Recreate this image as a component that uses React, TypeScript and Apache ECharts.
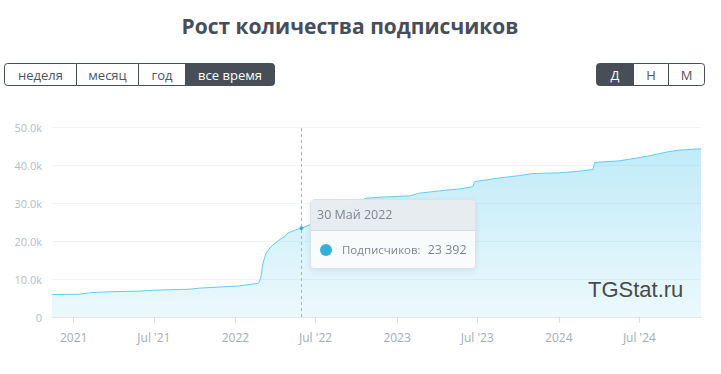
import React, { useEffect, useRef } from "react";
import * as echarts from "echarts";

// ---- data ----
const dates = [
  "2020-11-13", "2020-12-10", "2021-01-14", "2021-02-05", "2021-02-11", "2021-04-13",
  "2021-05-29", "2021-07-01", "2021-09-20", "2021-10-12", "2022-01-10", "2022-02-20",
  "2022-02-24", "2022-02-28", "2022-03-03", "2022-03-06", "2022-03-11", "2022-03-18",
  "2022-03-26", "2022-04-08", "2022-04-18", "2022-04-23", "2022-04-27", "2022-05-04",
  "2022-05-16", "2022-05-30", "2022-06-17", "2022-08-19", "2022-10-23", "2022-11-22",
  "2023-01-29", "2023-02-20", "2023-04-07", "2023-05-22", "2023-06-21", "2023-06-25",
  "2023-08-05", "2023-08-28", "2023-10-04", "2023-11-03", "2024-01-02", "2024-02-09",
  "2024-03-18", "2024-03-22", "2024-05-17", "2024-06-24", "2024-07-24", "2024-08-31",
  "2024-09-30", "2024-11-17",
];
const subscribers = [
  5910, 5930, 6000, 6340, 6440, 6700,
  6790, 7050, 7310, 7600, 8180, 8850,
  9100, 10800, 13300, 14900, 16700, 17900,
  18900, 20100, 20900, 21200, 21900, 22300,
  22900, 23392, 24210, 27700, 31260, 31520,
  31870, 32580, 33190, 33710, 34320, 35640,
  36350, 36700, 37220, 37750, 37940, 38280,
  38810, 40660, 41100, 41820, 42430, 43400,
  43930, 44270,
];
const xTickDates = [
  "2021-01-01", "2021-07-01", "2022-01-01", "2022-07-01",
  "2023-01-01", "2023-07-01", "2024-01-01", "2024-07-01",
];
const yTicks = [0, 10000, 20000, 30000, 40000, 50000];
const axisStart = "2020-11-13";
const axisEnd = "2024-11-17";
const tooltipDate = "2022-05-30";
const titleText = "Рост количества подписчиков";
const seriesName = "Подписчиков";
const periodButtons = ["неделя", "месяц", "год", "все время"];
const activePeriod = "все время";
const scaleButtons = ["Д", "Н", "М"];
const activeScale = "Д";
const watermark = "TGStat.ru";
const monthsEn = ["Jan", "Feb", "Mar", "Apr", "May", "Jun", "Jul", "Aug", "Sep", "Oct", "Nov", "Dec"];
const monthsRu = ["Янв", "Фев", "Мар", "Апр", "Май", "Июн", "Июл", "Авг", "Сен", "Окт", "Ноя", "Дек"];

// ---- helpers ----
const ts = (s: string) => {
  const [y, m, d] = s.split("-").map(Number);
  return new Date(y, m - 1, d).getTime();
};
const fmtNum = (v: number) => String(v).replace(/\B(?=(\d{3})+(?!\d))/g, " ");
const FONT = "'Open Sans', sans-serif";

function buttonGroup(labels: string[], active: string, x0: number, widths: number[], y: number, h: number) {
  const children: any[] = [];
  let x = x0;
  labels.forEach((lab, i) => {
    const w = widths[i];
    const isActive = lab === active;
    const r =
      i === 0 ? [3, 0, 0, 3] : i === labels.length - 1 ? [0, 3, 3, 0] : 0;
    children.push({
      type: "rect",
      shape: { x: x + 0.5, y: y + 0.5, width: w, height: h, r },
      style: { fill: isActive ? "#474e57" : "#ffffff", stroke: "#474e57", lineWidth: 1 },
      z: 1,
    });
    children.push({
      type: "text",
      x: x + 0.5 + w / 2,
      y: y + 0.5 + h / 2,
      style: {
        text: lab,
        align: "center",
        verticalAlign: "middle",
        fill: isActive ? "#ffffff" : "#4e555d",
        font: `13px ${FONT}`,
      },
      z: 2,
    });
    x += w;
  });
  return { type: "group", children };
}

export default function App() {
  const ref = useRef<HTMLDivElement>(null);
  useEffect(() => {
    if (!ref.current) return;
    const chart = echarts.init(ref.current, undefined, { renderer: "svg" });
    const data = dates.map((d, i) => [ts(d), subscribers[i]]);
    const tipIndex = dates.indexOf(tooltipDate);
    const tickVals = xTickDates.map(ts);

    chart.setOption({
      animation: false,
      textStyle: { fontFamily: FONT },
      grid: { left: 52, right: 20, top: 127, bottom: 57 },
      tooltip: {
        trigger: "axis",
        triggerOn: "none",
        alwaysShowContent: true,
        position: [310, 199],
        padding: 0,
        borderWidth: 0,
        backgroundColor: "transparent",
        extraCssText: "box-shadow:0 2px 6px rgba(0,0,0,0.08);border-radius:5px;",
        axisPointer: {
          type: "line",
          label: { show: false },
          lineStyle: { color: "#a9b1b9", type: [3, 3], width: 1 },
        },
        formatter: (params: any) => {
          const p = Array.isArray(params) ? params[0] : params;
          const dt = new Date(p.value[0]);
          const dateStr = `${dt.getDate()} ${monthsRu[dt.getMonth()]} ${dt.getFullYear()}`;
          return `<div style="width:164px;border:1px solid #dce1e5;border-radius:5px;overflow:hidden;font-family:${FONT};">
<div style="height:30px;line-height:30px;padding-left:6px;background:rgba(232,236,239,0.93);border-bottom:1px solid #d6dbe0;color:#7d8792;font-size:12.5px;">${dateStr}</div>
<div style="height:37px;display:flex;align-items:center;background:rgba(250,251,252,0.95);color:#7d8792;font-size:11.5px;">
<span style="display:inline-block;width:12px;height:12px;border-radius:50%;background:#35b0d8;margin-left:9px;margin-right:10px;"></span>
<span>${seriesName}:</span><span style="margin-left:7px;font-size:12.5px;">${fmtNum(p.value[1])}</span>
</div></div>`;
        },
      },
      xAxis: {
        type: "value",
        min: ts(axisStart),
        max: ts(axisEnd),
        axisLine: { lineStyle: { color: "#e2e6ea" } },
        axisTick: {
          show: true,
          length: 6,
          lineStyle: { color: "#d8dde2" },
          customValues: tickVals,
        },
        splitLine: { show: false },
        axisLabel: {
          customValues: tickVals,
          color: "#a3adb7",
          fontSize: 12,
          margin: 14,
          fontFamily: FONT,
          formatter: (v: number) => {
            const d = new Date(v);
            const m = d.getMonth();
            if (m === 0) return String(d.getFullYear());
            return `${monthsEn[m]} '${String(d.getFullYear()).slice(2)}`;
          },
        },
      },
      yAxis: {
        type: "value",
        min: yTicks[0],
        max: yTicks[yTicks.length - 1],
        interval: yTicks[1] - yTicks[0],
        axisLine: { show: false },
        axisTick: { show: false },
        splitLine: { lineStyle: { color: "#f1f3f5" } },
        axisLabel: {
          color: "#b4bcc4",
          fontSize: 11,
          margin: 10,
          fontFamily: FONT,
          formatter: (v: number) => (v === 0 ? "0" : (v / 1000).toFixed(1) + "k"),
        },
      },
      series: [
        {
          type: "line",
          name: seriesName,
          data,
          showSymbol: false,
          symbol: "circle",
          symbolSize: 4,
          itemStyle: { color: "#35b0d8" },
          lineStyle: { color: "#56bcdf", width: 1 },
          emphasis: { scale: false, lineStyle: { width: 1 } },
          areaStyle: {
            color: new echarts.graphic.LinearGradient(0, 0, 0, 1, [
              { offset: 0, color: "rgba(86,186,216,0.55)" },
              { offset: 1, color: "rgba(86,186,216,0.17)" },
            ]),
          },
        },
      ],
      graphic: [
        {
          type: "text",
          x: 350,
          y: 26,
          style: {
            text: titleText,
            align: "center",
            verticalAlign: "middle",
            fill: "#474e57",
            font: `bold 21px ${FONT}`,
          },
        },
        buttonGroup(periodButtons, activePeriod, 4, [72, 62, 47, 89], 63, 22),
        buttonGroup(scaleButtons, activeScale, 596, [37, 35, 36], 63, 22),
        {
          type: "text",
          x: 588,
          y: 289,
          style: {
            text: watermark,
            align: "left",
            verticalAlign: "middle",
            fill: "#4a4a4a",
            font: `22px 'Liberation Sans', Arial, sans-serif`,
          },
          z: 10,
        },
      ],
    });

    chart.dispatchAction({ type: "showTip", seriesIndex: 0, dataIndex: tipIndex });

    return () => chart.dispose();
  }, []);

  return (
    <div
      ref={ref}
      style={{ position: "absolute", left: 0, top: 0, width: 721, height: 374, background: "#fff" }}
    />
  );
}
